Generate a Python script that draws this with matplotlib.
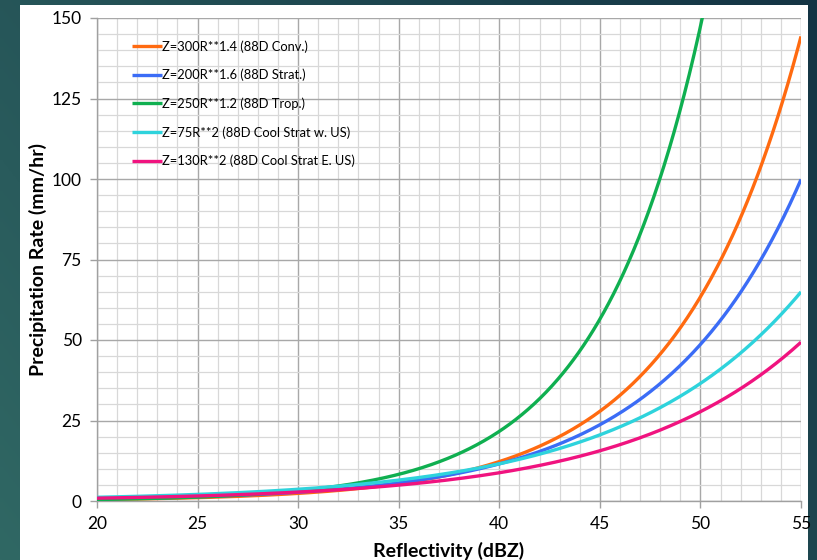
import numpy as np
import matplotlib.pyplot as plt
from matplotlib.patches import Rectangle
from matplotlib.ticker import MultipleLocator

# Z-R relationships: Z = a * R**b
labels = [
    "Z=300R**1.4 (88D Conv.)",
    "Z=200R**1.6 (88D Strat.)",
    "Z=250R**1.2 (88D Trop.)",
    "Z=75R**2 (88D Cool Strat w. US)",
    "Z=130R**2 (88D Cool Strat E. US)",
]
coef_a = [300, 200, 250, 75, 130]
coef_b = [1.4, 1.6, 1.2, 2.0, 2.0]
colors = ["#FF6A10", "#3B6CF6", "#0FAF50", "#2ED3DC", "#F0137F"]

dbz_min, dbz_max = 20, 55
x_ticks = [20, 25, 30, 35, 40, 45, 50, 55]
y_ticks = [0, 25, 50, 75, 100, 125, 150]

FONT = "Lato"

fig = plt.figure(figsize=(8.17, 5.6), dpi=100)

# slide-style teal background
bg = fig.add_axes([0, 0, 1, 1], zorder=-10)
gx = np.linspace(0, 1, 200)
gy = np.linspace(0, 1, 200)
GX, GY = np.meshgrid(gx, gy)
t = np.clip(0.65 * GX + 0.35 * (1 - GY), 0, 1)
c0 = np.array([48, 104, 100]) / 255
c1 = np.array([20, 52, 68]) / 255
img = c0[None, None, :] * (1 - t[..., None]) + c1[None, None, :] * t[..., None]
bg.imshow(img, extent=[0, 1, 0, 1], aspect="auto", origin="upper")
bg.add_patch(Rectangle((20 / 817, 0), (808 - 20) / 817, 1 - 5 / 560,
                       transform=bg.transAxes, facecolor="white", edgecolor="none"))
bg.set_xlim(0, 1)
bg.set_ylim(0, 1)
bg.axis("off")

ax = fig.add_axes([97 / 817, 1 - 501 / 560, (801 - 97) / 817, (501 - 18) / 560])
ax.set_facecolor("white")

dbz = np.linspace(dbz_min, dbz_max, 700)
z = 10 ** (dbz / 10)
for a, b, c, lab in zip(coef_a, coef_b, colors, labels):
    r = (z / a) ** (1 / b)
    ax.plot(dbz, r, color=c, lw=2.4, label=lab, solid_capstyle="butt", zorder=3)

ax.set_xlim(dbz_min, dbz_max)
ax.set_ylim(0, 150)
ax.set_xticks(x_ticks)
ax.set_yticks(y_ticks)
ax.xaxis.set_minor_locator(MultipleLocator(1))
ax.yaxis.set_minor_locator(MultipleLocator(5))
ax.grid(which="major", color="#A8A8A8", lw=1.0, zorder=1)
ax.grid(which="minor", color="#D8D8D8", lw=0.9, zorder=0)
ax.set_axisbelow(True)

for s in ["top", "right"]:
    ax.spines[s].set_visible(False)
for s in ["left", "bottom"]:
    ax.spines[s].set_color("#A0A0A0")
    ax.spines[s].set_linewidth(1.0)

ax.tick_params(which="major", length=5, width=1, color="#A0A0A0",
               labelsize=12.5, labelcolor="black", pad=6)
ax.tick_params(which="minor", length=0)
for lab in ax.get_xticklabels() + ax.get_yticklabels():
    lab.set_family(FONT)

ax.set_xlabel("Reflectivity (dBZ)", fontsize=14, fontweight="bold",
              family=FONT, labelpad=7)
ax.set_ylabel("Precipitation Rate (mm/hr)", fontsize=14, fontweight="bold",
              family=FONT, labelpad=3)

leg = ax.legend(loc="upper left", bbox_to_anchor=(0.043, 0.965), frameon=False,
                prop={"family": FONT, "size": 9.3},
                handlelength=2.3, handletextpad=0.0, labelspacing=1.25,
                borderaxespad=0)

fig.savefig("out.png", dpi=100)
